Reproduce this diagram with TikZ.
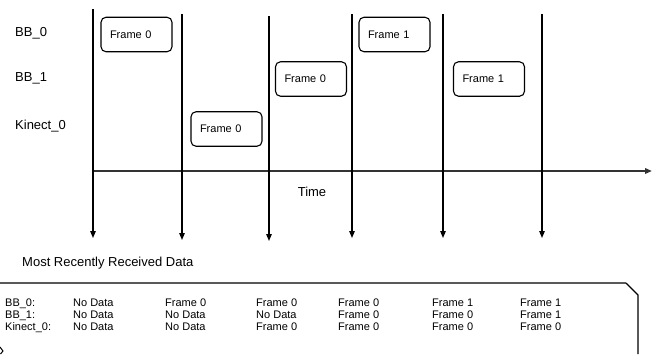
\documentclass[tikz,border=0pt]{standalone}
\usepackage{fontspec}
\setmainfont{Liberation Sans}
\usetikzlibrary{arrows.meta}

\tikzset{
  rowlabel/.style={anchor=west, inner sep=0pt, font=\fontsize{13}{15}\selectfont},
  framebox/.style={draw, line width=1.1pt, rounded corners=5pt, minimum height=34.5pt,
    text width=53pt, inner xsep=9pt, inner ysep=0pt, align=left, font=\fontsize{11}{13}\selectfont},
  cell/.style={anchor=base west, inner sep=0pt, align=left, font=\fontsize{11}{12}\selectfont},
  tickline/.style={line width=1.2pt},
  axisline/.style={line width=1.8pt, black!80},
  boxtop/.style={line width=2.2pt, black!65},
}

\begin{document}
\begin{tikzpicture}[x=1pt, y=-1pt, >={Triangle[length=7pt,width=5.5pt]}]
\useasboundingbox (0,0) rectangle (652,354);
\clip (0,0) rectangle (652,354);

% Zeilen
\node[rowlabel] (bb0) at (15,33) {BB\_0};
\node[rowlabel] (bb1) at (15,78) {BB\_1};
\node[rowlabel] (kin0) at (15,126) {Kinect\_0};

% Zeitachse
\coordinate (t0) at (93,171);
\coordinate (tend) at (652,171);
\draw[->, axisline] (t0) -- (tend);
\node[font=\fontsize{13}{15}\selectfont] (time) at (312,192) {Time};

% Abtastzeitpunkte
\foreach \i/\x/\ya/\yb in {1/93/9/238, 2/182/14/240, 3/269/16/241, 4/352/14/238, 5/443/14/238, 6/542/14/238} {
    \coordinate (s\i) at (\x,\ya);
    \coordinate (e\i) at (\x,\yb);
    \draw[->, tickline] (s\i) -- (e\i);
}

% Empfangene Frames
\node[framebox] (bbnull) at (136.5,34.5) {Frame 0};
\node[framebox] (kinnull) at (226.5,129) {Frame 0};
\node[framebox] (bbeinsnull) at (311,79) {Frame 0};
\node[framebox] (bbnulleins) at (394.5,34.5) {Frame 1};
\node[framebox] (bbeinseins) at (489,79) {Frame 1};

% Tabelle
\node[rowlabel] (mrrd) at (22,263) {Most Recently Received Data};
\draw[boxtop] (0,283) -- (626,283);
\draw[line width=1.1pt] (626,283) -- (638,295) -- (638,354);
\draw[line width=1pt] (0,347) -- (3,351) -- (0.5,354);

% Grundlinie der letzten Zeile
\foreach \i/\x/\a/\b/\c in {1/5/BB\_0:/BB\_1:/Kinect\_0:,
                            2/73/No Data/No Data/No Data,
                            3/165/Frame 0/No Data/No Data,
                            4/256/Frame 0/No Data/Frame 0,
                            5/338/Frame 0/Frame 0/Frame 0,
                            6/432/Frame 1/Frame 0/Frame 0,
                            7/520/Frame 1/Frame 1/Frame 0} {
    \node[cell] (col\i) at (\x,330) {\a\\\b\\\c};
}
\end{tikzpicture}
\end{document}
